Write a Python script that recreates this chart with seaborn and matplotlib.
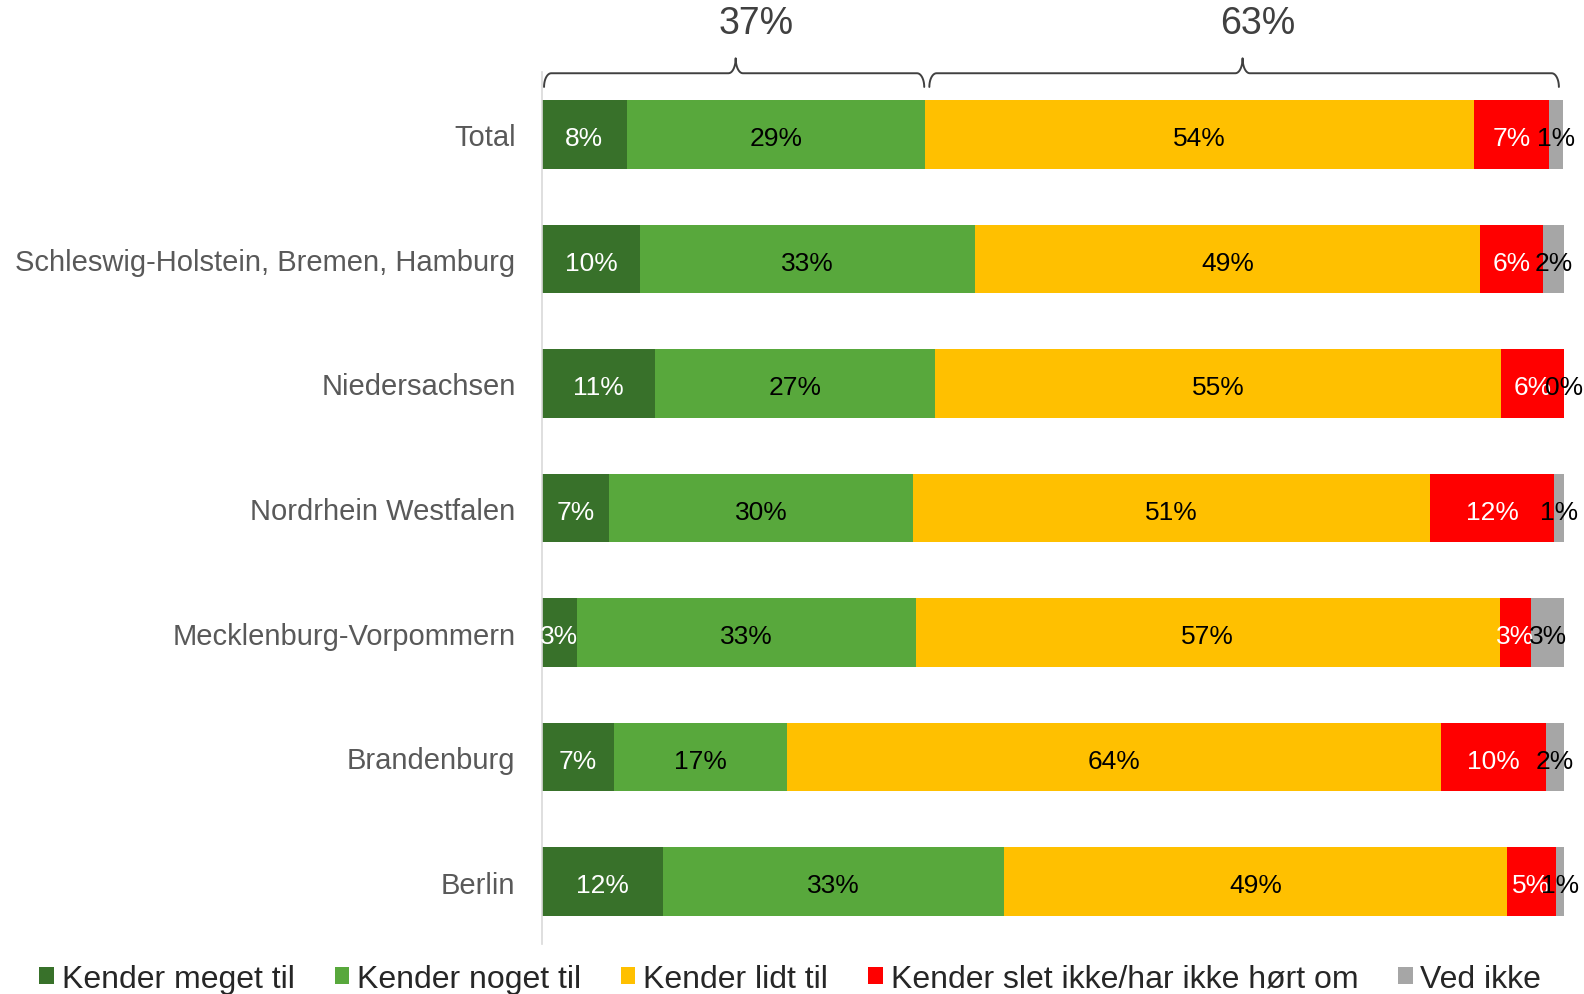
import numpy as np
import pandas as pd
import seaborn as sns
import matplotlib.pyplot as plt
from matplotlib.patches import Patch

# data (percent)
categories = ['Total', 'Schleswig-Holstein, Bremen, Hamburg', 'Niedersachsen',
              'Nordrhein Westfalen', 'Mecklenburg-Vorpommern', 'Brandenburg', 'Berlin']
meget = [8.3, 9.6, 11.1, 6.6, 3.4, 7.0, 11.8]
noget = [29.2, 32.8, 27.4, 29.7, 33.2, 17.0, 33.4]
lidt = [53.7, 49.4, 55.3, 50.6, 57.1, 64.0, 49.2]
slet = [7.3, 6.1, 6.2, 12.1, 3.1, 10.2, 4.8]
vedikke = [1.4, 2.1, 0.0, 1.1, 3.2, 1.8, 0.8]

series_names = ['Kender meget til', 'Kender noget til', 'Kender lidt til',
                'Kender slet ikke/har ikke hørt om', 'Ved ikke']
colors = ['#38712A', '#58A83C', '#FFC000', '#FF0000', '#A6A6A6']
label_colors = ['white', 'black', 'black', 'white', 'black']

# top brackets: share of "kender meget/noget" vs rest in Total
bracket_labels = ['37%', '63%']

sns.set_style('white')
plt.rcParams['font.family'] = ['Liberation Sans', 'DejaVu Sans']

df = pd.DataFrame({'cat': categories})
vals = np.array([meget, noget, lidt, slet, vedikke])
cum = vals.cumsum(axis=0)

fig = plt.figure(figsize=(15.84, 9.95), dpi=100)
ax = fig.add_axes([542 / 1584, 1 - 945 / 995, (1564 - 542) / 1584, (945 - 73) / 995])

# stacked bars: draw cumulative totals from the back to the front
for i in range(len(series_names) - 1, -1, -1):
    df['v'] = cum[i]
    sns.barplot(data=df, x='v', y='cat', orient='h', color=colors[i], saturation=1,
                width=0.55, linewidth=0, ax=ax)

# segment labels
for i in range(len(series_names)):
    for j in range(len(categories)):
        left = cum[i][j] - vals[i][j]
        ax.text(left + vals[i][j] / 2, j + 0.01, f'{vals[i][j]:.0f}%', ha='center',
                va='center_baseline', fontsize=19, color=label_colors[i])

ax.set_xlim(0, 100)
ax.set_ylim(6.5, -0.5)
ax.set_xlabel('')
ax.set_ylabel('')
ax.set_xticks([])
ax.tick_params(axis='y', length=0, pad=19, labelsize=21, labelcolor='#595959')
for s in ['top', 'right', 'bottom']:
    ax.spines[s].set_visible(False)
ax.spines['left'].set_color('#D9D9D9')
ax.spines['left'].set_linewidth(1.2)


def brace(x0, x1, xm, xt, txt):
    y_end, y_line, y_top = -0.38, -0.49, -0.61
    r = 0.7
    t = np.linspace(0, np.pi / 2, 12)
    xs, ys = [], []
    # left corner
    xs += list(x0 + r - r * np.cos(t)); ys += list(y_end + (y_line - y_end) * np.sin(t))
    # rise to middle notch
    xs += list(xm - r + r * np.sin(t)); ys += list(y_top + (y_line - y_top) * np.cos(t))
    xs += list(xm + r - r * np.cos(t)); ys += list(y_top + (y_line - y_top) * np.sin(t))
    # right corner
    xs += list(x1 - r + r * np.sin(t)); ys += list(y_end + (y_line - y_end) * np.cos(t))
    ax.plot(xs, ys, color='#404040', lw=1.4, clip_on=False)
    ax.text(xt, -0.895, txt, ha='center', va='center', fontsize=27, color='#404040')


split = meget[0] + noget[0]
brace(0.2, split - 0.1, split / 2 + 0.2, split / 2 + 2.2, bracket_labels[0])
brace(split + 0.4, 99.5, (split + 99.6) / 2, (split + 99.6) / 2 + 1.5, bracket_labels[1])

handles = [Patch(facecolor=c, edgecolor='none') for c in colors]
fig.legend(handles, series_names, loc='center', bbox_to_anchor=(0.499, 1 - 980 / 995),
           ncol=5, frameon=False, fontsize=23, handlelength=0.45, handleheight=0.45,
           handletextpad=0.25, columnspacing=1.25, borderaxespad=0, borderpad=0)

plt.savefig('out.png', dpi=100)
